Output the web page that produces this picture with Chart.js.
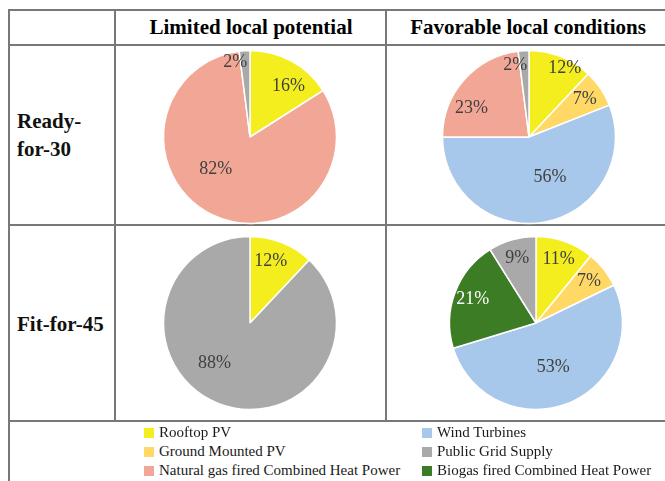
<!DOCTYPE html>
<html>
<head>
<meta charset="utf-8">
<script src="https://cdn.jsdelivr.net/npm/chart.js@4.4.1/dist/chart.umd.min.js"></script>
<style>
  html, body { margin: 0; padding: 0; background: #fff; }
  #page { position: relative; width: 665px; height: 481px; overflow: hidden; font-family: "Liberation Serif", "Times New Roman", serif; }
  .hline, .vline { position: absolute; background: #787878; }
  .hline { height: 2px; }
  .vline { width: 2px; }
  .head { position: absolute; font-weight: bold; font-size: 21px; line-height: 21px; white-space: nowrap; color: #000; transform: translateX(-50%); }
  .rowlab { position: absolute; font-weight: bold; font-size: 21px; line-height: 27.5px; white-space: pre; color: #111; }
  .pie { position: absolute; width: 200px; height: 200px; }
  .leg { position: absolute; font-size: 15px; line-height: 19px; color: #1a1a1a; white-space: nowrap; }
  .leg span.sw { display: inline-block; width: 10px; height: 10px; margin-right: 5px; vertical-align: -1px; }
</style>
</head>
<body>
<div id="page">
  <!-- table grid -->
  <div class="hline" style="left:8px; top:9px; width:660px;"></div>
  <div class="hline" style="left:8px; top:44px; width:660px;"></div>
  <div class="hline" style="left:8px; top:224px; width:660px;"></div>
  <div class="hline" style="left:8px; top:420px; width:660px;"></div>
  <div class="vline" style="left:8px; top:9px; height:480px;"></div>
  <div class="vline" style="left:114px; top:9px; height:412px;"></div>
  <div class="vline" style="left:385px; top:9px; height:412px;"></div>

  <div id="headers"></div>
  <div id="rows"></div>

  <div class="pie" style="left:150px; top:37px;"><canvas id="c00"></canvas></div>
  <div class="pie" style="left:429px; top:37px;"><canvas id="c01"></canvas></div>
  <div class="pie" style="left:150px; top:223px;"><canvas id="c10"></canvas></div>
  <div class="pie" style="left:436px; top:223px;"><canvas id="c11"></canvas></div>

  <div id="legend"></div>
</div>
<script>
// Energy supply shares (%) per scenario and local condition
const categories = [
  'Rooftop PV',
  'Ground Mounted PV',
  'Wind Turbines',
  'Natural gas fired Combined Heat Power',
  'Biogas fired Combined Heat Power',
  'Public Grid Supply'
];
const ready30Limited   = [16, 0, 0, 82, 0, 2];
const ready30Favorable = [12, 7, 56, 23, 0, 2];
const fit45Limited     = [12, 0, 0, 0, 0, 88];
const fit45Favorable   = [11, 7, 53, 0, 21, 9];

const conditionLabels = ['Limited local potential', 'Favorable local conditions'];
const scenarioLabels  = ['Ready-\nfor-30', 'Fit-for-45'];

const colors = ['#F4EE1F', '#FFD866', '#A7C8EA', '#F2A696', '#3B7C24', '#A9A9A9'];
const labelColors = ['#404040', '#404040', '#404040', '#404040', '#FFFFFF', '#404040'];
const legendColumns = [[0, 1, 3], [2, 5, 4]];

// column / row headers
const headers = document.getElementById('headers');
[[251, conditionLabels[0]], [528, conditionLabels[1]]].forEach(([cx, t]) => {
  const d = document.createElement('div');
  d.className = 'head';
  d.style.left = cx + 'px';
  d.style.top = '17px';
  d.textContent = t;
  headers.appendChild(d);
});
const rows = document.getElementById('rows');
[[108, scenarioLabels[0]], [311, scenarioLabels[1]]].forEach(([top, t]) => {
  const d = document.createElement('div');
  d.className = 'rowlab';
  d.style.left = '17px';
  d.style.top = top + 'px';
  d.textContent = t;
  rows.appendChild(d);
});

// legend below the grid
const legend = document.getElementById('legend');
[144, 422].forEach((left, col) => {
  legendColumns[col].forEach((idx, r) => {
    const d = document.createElement('div');
    d.className = 'leg';
    d.style.left = left + 'px';
    d.style.top = (423 + r * 19) + 'px';
    const sw = document.createElement('span');
    sw.className = 'sw';
    sw.style.background = colors[idx];
    d.appendChild(sw);
    d.appendChild(document.createTextNode(categories[idx]));
    legend.appendChild(d);
  });
});

// percentage labels placed inside each slice
const sliceLabels = {
  id: 'sliceLabels',
  afterDatasetsDraw(chart, args, opts) {
    const ctx = chart.ctx;
    const meta = chart.getDatasetMeta(0);
    const values = chart.data.datasets[0].data;
    const nudge = opts.nudge || {};
    ctx.save();
    ctx.font = '18px "Liberation Serif", "Times New Roman", serif';
    ctx.textAlign = 'center';
    ctx.textBaseline = 'middle';
    meta.data.forEach((arc, i) => {
      const v = values[i];
      if (!v) return;
      const p = arc.getProps(['x', 'y', 'startAngle', 'endAngle', 'outerRadius'], true);
      const mid = (p.startAngle + p.endAngle) / 2;
      const frac = v >= 50 ? 0.55 : (v < 5 ? 0.86 : 0.78);
      const n = nudge[i] || [0, 0];
      const x = p.x + Math.cos(mid) * p.outerRadius * frac + n[0];
      const y = p.y + Math.sin(mid) * p.outerRadius * frac + n[1];
      ctx.fillStyle = labelColors[i];
      ctx.fillText(v + '%', x, y);
    });
    ctx.restore();
  }
};

function makePie(id, values, nudge) {
  return new Chart(document.getElementById(id), {
    type: 'pie',
    data: {
      labels: categories,
      datasets: [{
        data: values,
        backgroundColor: colors,
        borderColor: '#ffffff',
        borderWidth: (c) => (c.raw ? 1.5 : 0),
        radius: 86.5,
        hoverOffset: 0
      }]
    },
    options: {
      responsive: true,
      maintainAspectRatio: false,
      animation: false,
      layout: { padding: 0 },
      plugins: {
        legend: { display: false },
        tooltip: { enabled: false },
        sliceLabels: { nudge: nudge }
      }
    },
    plugins: [sliceLabels]
  });
}

makePie('c00', ready30Limited,   { 0: [6, 8], 3: [-14, -11], 5: [-10, 0] });
makePie('c01', ready30Favorable, { 0: [11, -6], 2: [12, -6], 3: [-7, 16], 5: [-9, 3] });
makePie('c10', fit45Limited,     { 0: [-4, 1], 5: [-18, -4] });
makePie('c11', fit45Favorable,   {});
</script>
</body>
</html>
